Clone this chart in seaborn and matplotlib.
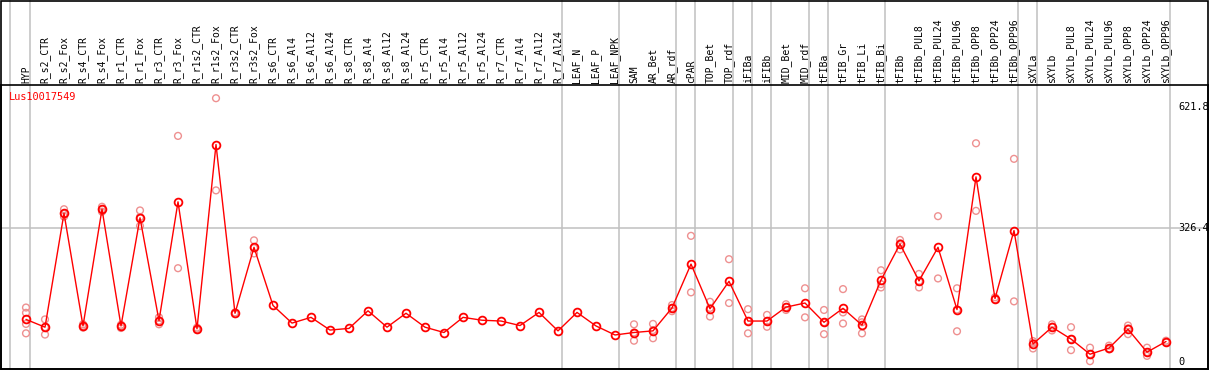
import numpy as np
import pandas as pd
import matplotlib
matplotlib.use("Agg")
import matplotlib.pyplot as plt
import seaborn as sns

gene = "Lus10017549"

samples = ["HYP", "R_s2_CTR", "R_s2_Fox", "R_s4_CTR", "R_s4_Fox", "R_r1_CTR", "R_r1_Fox",
           "R_r3_CTR", "R_r3_Fox", "R_r1s2_CTR", "R_r1s2_Fox", "R_r3s2_CTR", "R_r3s2_Fox",
           "R_s6_CTR", "R_s6_Al4", "R_s6_Al12", "R_s6_Al24", "R_s8_CTR", "R_s8_Al4",
           "R_s8_Al12", "R_s8_Al24", "R_r5_CTR", "R_r5_Al4", "R_r5_Al12", "R_r5_Al24",
           "R_r7_CTR", "R_r7_Al4", "R_r7_Al12", "R_r7_Al24", "LEAF_N", "LEAF_P", "LEAF_NPK",
           "SAM", "AR_Bet", "AR_rdf", "cPAR", "TOP_Bet", "TOP_rdf", "iFIBa", "iFIBb",
           "MID_Bet", "MID_rdf", "tFIBa", "tFIB_Gr", "tFIB_Li", "tFIB_Bi", "tFIBb",
           "tFIBb_PUL8", "tFIBb_PUL24", "tFIBb_PUL96", "tFIBb_OPP8", "tFIBb_OPP24",
           "tFIBb_OPP96", "sXYLa", "sXYLb", "sXYLb_PUL8", "sXYLb_PUL24", "sXYLb_PUL96",
           "sXYLb_OPP8", "sXYLb_OPP24", "sXYLb_OPP96"]

means = [104, 85, 363, 88, 373, 88, 352, 101, 391, 81, 531, 119, 280,
         138, 95, 109, 78, 82, 125, 85, 119, 85, 72, 109, 102, 100, 89, 121, 76,
         121, 88, 66, 72, 76, 132, 239, 130, 197, 100, 100, 134, 144,
         97, 131, 90, 200, 288, 198, 280, 128, 452, 155, 321,
         44, 85, 56, 19, 34, 80, 24, 50]

replicates = [[133, 120, 93, 70], [104, 85, 67], [373, 355, 362], [92, 88, 84],
              [379, 373, 367], [91, 88, 83], [370, 354, 332], [109, 101, 92],
              [552, 229], [84, 81, 78], [644, 419], [121, 117], [297, 278, 265],
              [], [], [], [], [], [], [], [], [], [], [], [], [], [], [], [], [], [], [],
              [92, 72, 52], [93, 78, 58], [139, 132, 124], [308, 170], [147, 132, 111],
              [251, 144], [129, 100, 70], [115, 100, 86], [141, 134, 127], [180, 109],
              [127, 97, 68], [178, 121, 94], [104, 97, 70], [224, 190, 182],
              [298, 290, 275], [215, 197, 182], [356, 204], [180, 128, 75], [534, 369],
              [158, 153], [496, 148], [51, 46, 33], [92, 86, 77], [85, 56, 29],
              [35, 19, 2], [40, 33, 31], [89, 82, 68], [35, 24, 15], [52, 48]]

# last sample of each tissue group (separator lines drawn after them)
group_ends = ["HYP", "R_r7_Al24", "LEAF_NPK", "AR_rdf", "cPAR", "TOP_rdf", "iFIBa",
              "iFIBb", "MID_rdf", "tFIBa", "tFIB_Bi", "tFIBb_OPP96", "sXYLa", "sXYLb_OPP96"]

y_ticks = [0, 326.4, 621.8]

pos = np.arange(len(samples))
mean_df = pd.DataFrame({"pos": pos, "value": means})
rep_df = pd.DataFrame([(i, v) for i, r in enumerate(replicates) for v in r],
                      columns=["pos", "value"])

sns.set_style("white")
plt.rcParams["font.family"] = ["DejaVu Sans Mono"]

W, H = 1209, 370
fig = plt.figure(figsize=(W / 100, H / 100), dpi=100)
ax = fig.add_axes([1 / W, 1 / H, 1207 / W, 284 / H])

px_per_unit = 0.4096
ax.set_ylim(-7 / px_per_unit, 277 / px_per_unit)
ax.set_xlim(-25 / 19, 1182 / 19)

# grid / separators
top_frac = 369 / 284
ax.axvline(-0.83, 0, top_frac, color="#c0c0c0", lw=1.1, clip_on=False, zorder=0)
for name in group_ends:
    ax.axvline(samples.index(name) + 0.23, 0, top_frac, color="#c0c0c0", lw=1.1,
               clip_on=False, zorder=0)
ax.axhline(y_ticks[1], color="#c0c0c0", lw=1.1, zorder=0)

sns.scatterplot(data=rep_df, x="pos", y="value", ax=ax, marker="o", s=24,
                facecolor="none", edgecolor="#ee9090", linewidth=1.0, zorder=2)
sns.lineplot(data=mean_df, x="pos", y="value", ax=ax, color="red", lw=1.0,
             marker="o", markersize=5.6, markerfacecolor="none",
             markeredgecolor="red", markeredgewidth=1.3, zorder=3)

ax.set_xlabel("")
ax.set_ylabel("")
ax.set_xticks([])
ax.set_yticks([])
for sp in ax.spines.values():
    sp.set_visible(True)
    sp.set_color("black")
    sp.set_linewidth(1.2)

# column labels in the header
lab_tr = ax.get_xaxis_transform()
for i, name in enumerate(samples):
    ax.text(i, 1.008, name, rotation=90, ha="center", va="bottom", fontsize=7.0,
            color="black", transform=lab_tr, clip_on=False)

# value labels on the right
for v in y_ticks:
    ax.text(1178 / 19 - 26 / 19, v, f"{v:g}", ha="left", va="center", fontsize=7.4,
            color="black", clip_on=False)

ax.text(-0.88, 647, gene, color="red", fontsize=7.4, ha="left", va="center")

# outer frame
fig.add_artist(plt.Rectangle((1 / W, 1 / H), 1207 / W, 368.5 / H, fill=False,
                             edgecolor="black", lw=1.2, transform=fig.transFigure))

fig.savefig("out.png", dpi=100)
